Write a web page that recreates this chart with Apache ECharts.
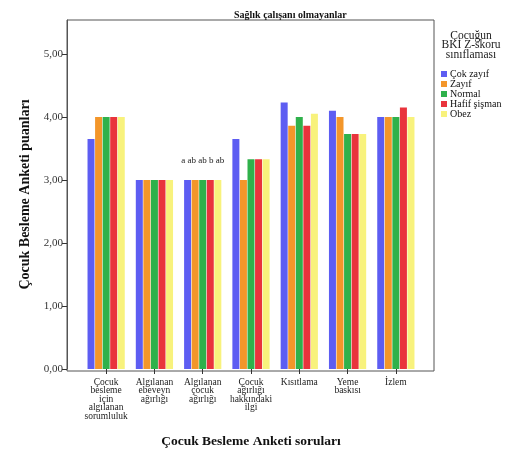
<!DOCTYPE html>
<html>
<head>
<meta charset="utf-8">
<script src="https://cdn.jsdelivr.net/npm/echarts@6/dist/echarts.min.js"></script>
<style>
  html, body { margin: 0; padding: 0; background: #fff; }
  #chart { width: 507px; height: 454px; }
</style>
</head>
<body>
<div id="chart"></div>
<script>
// soru kategorileri
const categories = [
  "Çocuk\nbesleme\niçin\nalgılanan\nsorumluluk",
  "Algılanan\nebeveyn\nağırlığı",
  "Algılanan\nçocuk\nağırlığı",
  "Çocuk\nağırlığı\nhakkındaki\nilgi",
  "Kısıtlama",
  "Yeme\nbaskısı",
  "İzlem"
];
const groupNames = ["Çok zayıf", "Zayıf", "Normal", "Hafif şişman", "Obez"];
const cokZayif = [3.65, 3.0, 3.0, 3.65, 4.23, 4.1, 4.0];
const zayif = [4.0, 3.0, 3.0, 3.0, 3.86, 4.0, 4.0];
const normal = [4.0, 3.0, 3.0, 3.33, 4.0, 3.73, 4.0];
const hafifSisman = [4.0, 3.0, 3.0, 3.33, 3.86, 3.73, 4.15];
const obez = [4.0, 3.0, 3.0, 3.33, 4.05, 3.73, 4.0];
// "Algılanan çocuk ağırlığı" üstündeki harfler
const letters = "a ab ab b ab";
const letterIndex = 2;
const yTicks = [0, 1, 2, 3, 4, 5];

const colors = ["#5d5df2", "#f3962a", "#2fb14b", "#e9343c", "#f8f27c"];
const serif = "Liberation Serif";
const seriesValues = [cokZayif, zayif, normal, hafifSisman, obez];

const chart = echarts.init(document.getElementById("chart"));

const series = seriesValues.map(function (vals, si) {
  return {
    name: groupNames[si],
    type: "bar",
    barWidth: 7,
    barGap: "8%",
    itemStyle: { color: colors[si] },
    data: vals.map(function (v, i) {
      // harfler ortadaki (Normal) çubuğun üstüne tek metin olarak
      if (i !== letterIndex || si !== 2) return v;
      return {
        value: v,
        label: {
          show: true,
          position: "top",
          distance: 15,
          formatter: letters,
          fontFamily: serif,
          fontSize: 9,
          color: "#222"
        }
      };
    })
  };
});

chart.setOption({
  animation: false,
  color: colors,
  title: {
    text: "Sağlık çalışanı olmayanlar",
    left: 229,
    top: 5,
    textStyle: { fontFamily: serif, fontSize: 10, fontWeight: "bold", color: "#111" }
  },
  legend: {
    orient: "vertical",
    left: 436,
    top: 64,
    itemWidth: 6,
    itemHeight: 6,
    itemGap: 0,
    icon: "rect",
    textStyle: { fontFamily: serif, fontSize: 10, lineHeight: 9.4, color: "#111", padding: [0, 0, 0, -2] },
    data: groupNames
  },
  graphic: [{
    type: "text",
    x: 471,
    y: 31,
    style: {
      text: "Çocuğun\nBKİ Z-skoru\nsınıflaması",
      align: "center",
      fontFamily: serif,
      fontSize: 11.5,
      lineHeight: 9.5,
      fill: "#222"
    }
  }],
  grid: [
    { left: 82, right: 87, top: 20, bottom: 83 },
    { left: 67, right: 73, top: 20, bottom: 83, show: true, borderColor: "#555", borderWidth: 1, backgroundColor: "transparent" }
  ],
  xAxis: [{
    type: "category",
    data: categories,
    axisLine: { show: false },
    axisTick: { show: true, alignWithLabel: true, length: 5, lineStyle: { color: "#333" } },
    axisLabel: {
      interval: 0,
      fontFamily: serif,
      fontSize: 9.5,
      lineHeight: 8.5,
      color: "#222",
      margin: 9
    },
    name: "Çocuk Besleme Anketi soruları",
    nameLocation: "middle",
    nameGap: 66,
    nameTextStyle: { fontFamily: serif, fontSize: 13.5, fontWeight: "bold", color: "#111" }
  }, {
    gridIndex: 1, type: "value", show: false
  }],
  yAxis: [{
    type: "value",
    min: 0,
    max: 5.54,
    interval: 1,
    offset: 15,
    axisLine: { show: true, lineStyle: { color: "#555" } },
    axisTick: { show: true, length: 5, customValues: yTicks, lineStyle: { color: "#333" } },
    splitLine: { show: false },
    axisLabel: {
      customValues: yTicks,
      fontFamily: serif,
      fontSize: 11,
      color: "#333",
      margin: 4,
      formatter: function (v) { return v.toFixed(2).replace(".", ","); }
    },
    name: "Çocuk Besleme Anketi puanları",
    nameLocation: "middle",
    nameGap: 32,
    nameTextStyle: { fontFamily: serif, fontSize: 14, fontWeight: "bold", color: "#111" }
  }, {
    gridIndex: 1, type: "value", show: false
  }],
  series: series
});
</script>
</body>
</html>
